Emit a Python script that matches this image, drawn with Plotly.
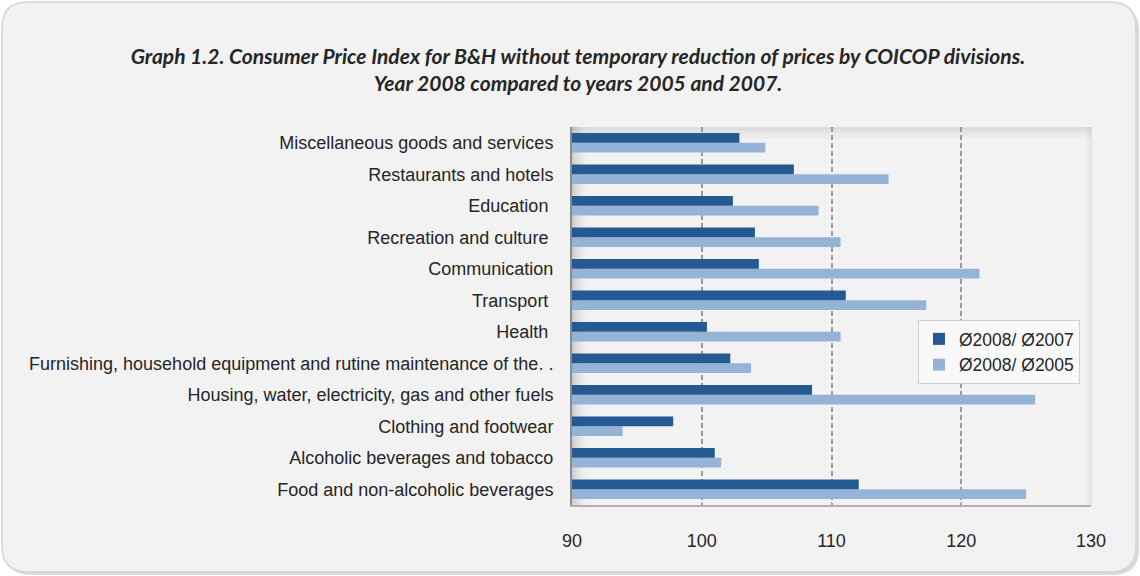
import plotly.graph_objects as go

# DATA (bottom to top, as plotted)
categories = [
    "Food and non-alcoholic beverages",
    "Alcoholic beverages and tobacco",
    "Clothing and footwear",
    "Housing, water, electricity, gas and other fuels",
    "Furnishing, household equipment and rutine maintenance of the. .",
    "Health ",
    "Transport ",
    "Communication",
    "Recreation and culture ",
    "Education ",
    "Restaurants and hotels",
    "Miscellaneous goods and services",
]
vs_2007 = [112.1, 101.0, 97.8, 108.5, 102.2, 100.4, 111.1, 104.4, 104.1, 102.4, 107.1, 102.9]
vs_2005 = [125.0, 101.5, 93.9, 125.7, 103.8, 110.7, 117.3, 121.4, 110.7, 109.0, 114.4, 104.9]
x_ticks = [90, 100, 110, 120, 130]

COLORS = {
    "dark": "#245a91",
    "light": "#95b3d7",
    "frame": "#f2f2f2",
    "border": "#d4d4d4",
    "grid": "#9a9a9a",
    "text": "#262626",
}
LABEL_FONT = "Liberation Sans, Arial, sans-serif"

# plot area in pixels
L, R, T, B = 572, 1091, 127, 505
W, H = 1140, 576


def px(x):
    return (x - L) / (R - L)


def py(y):
    return (B - y) / (B - T)


def rounded_rect(x0, y0, x1, y1, r):
    return (
        f"M {px(x0 + r)} {py(y0)} L {px(x1 - r)} {py(y0)} "
        f"Q {px(x1)} {py(y0)} {px(x1)} {py(y0 + r)} "
        f"L {px(x1)} {py(y1 - r)} Q {px(x1)} {py(y1)} {px(x1 - r)} {py(y1)} "
        f"L {px(x0 + r)} {py(y1)} Q {px(x0)} {py(y1)} {px(x0)} {py(y1 - r)} "
        f"L {px(x0)} {py(y0 + r)} Q {px(x0)} {py(y0)} {px(x0 + r)} {py(y0)} Z"
    )


fig = go.Figure()

fig.add_trace(go.Bar(
    y=categories, x=vs_2005, orientation="h",
    name="\u00d82008/ \u00d82005",
    marker=dict(color=COLORS["light"], line=dict(width=0)),
    legendrank=2,
))
fig.add_trace(go.Bar(
    y=categories, x=vs_2007, orientation="h",
    name="\u00d82008/ \u00d82007",
    marker=dict(color=COLORS["dark"], line=dict(width=0)),
    legendrank=1,
))

shapes = [
    # soft outer shadow + rounded frame
    dict(type="path", xref="paper", yref="paper", layer="below",
         path=rounded_rect(5, 5, 1139, 575, 26),
         fillcolor="#d9d9d9", line=dict(width=0)),
    dict(type="path", xref="paper", yref="paper", layer="below",
         path=rounded_rect(2, 2, 1136, 572, 26),
         fillcolor=COLORS["frame"], line=dict(color=COLORS["border"], width=1.5)),
]
# soft inner shadow along the left edge of the plot area
for i, a in enumerate([0.14, 0.10, 0.07, 0.045, 0.025, 0.012]):
    shapes.append(dict(
        type="rect", xref="paper", yref="paper", layer="below",
        x0=px(L + i * 2.5), x1=px(L + i * 2.5 + 2.5), y0=0, y1=1,
        fillcolor=f"rgba(0,0,0,{a})", line=dict(width=0),
    ))
# soft shadow along the top edge
for i, a in enumerate([0.09, 0.06, 0.035, 0.018]):
    shapes.append(dict(
        type="rect", xref="paper", yref="paper", layer="below",
        x0=0, x1=1, y0=py(T + i * 3 + 3), y1=py(T + i * 3),
        fillcolor=f"rgba(0,0,0,{a})", line=dict(width=0),
    ))
# faint shadow along the right edge
for i, a in enumerate([0.06, 0.035, 0.015]):
    shapes.append(dict(
        type="rect", xref="paper", yref="paper", layer="below",
        x0=px(R + 1 - i * 2 - 2), x1=px(R + 1 - i * 2), y0=0, y1=1,
        fillcolor=f"rgba(0,0,0,{a})", line=dict(width=0),
    ))

fig.update_layout(
    width=W, height=H,
    paper_bgcolor="white",
    plot_bgcolor=COLORS["frame"],
    margin=dict(l=L, r=W - R, t=T, b=H - B, pad=0),
    barmode="group",
    bargap=0.38,
    bargroupgap=0.0,
    shapes=shapes,
    title=dict(
        text="Graph 1.2. Consumer Price Index for B&H without temporary reduction of prices by COICOP divisions."
             "<br>Year 2008 compared to years 2005 and 2007.",
        x=578 / W, xanchor="center",
        y=1 - 64 / H, yanchor="top",
        font=dict(family="Lato, Open Sans, sans-serif", size=21, color=COLORS["text"],
                  weight="bold", style="italic"),
    ),
    legend=dict(
        x=px(918), y=py(320), xanchor="left", yanchor="top",
        bgcolor="#f9f9f9", bordercolor="#d0d0d0", borderwidth=1,
        font=dict(family=LABEL_FONT, size=17.5, color=COLORS["text"]),
        itemwidth=30, tracegroupgap=0,
    ),
    font=dict(family=LABEL_FONT, color=COLORS["text"]),
)

fig.update_xaxes(
    range=[90, 130],
    tickvals=x_ticks,
    tickfont=dict(size=18, family=LABEL_FONT, color=COLORS["text"]),
    ticklabelstandoff=18,
    showgrid=True, gridcolor=COLORS["grid"], griddash="5px,3px", gridwidth=1.5,
    showline=True, linecolor="#b0b0b0", linewidth=2,
    ticks="inside", ticklen=3, tickcolor="#a6a6a6",
    zeroline=False,
)
fig.update_yaxes(
    categoryorder="array", categoryarray=categories,
    tickfont=dict(size=18, family=LABEL_FONT, color=COLORS["text"]),
    ticklabelstandoff=13,
    showline=True, linecolor="#8c8c8c", linewidth=2,
    showgrid=False, ticks="",
)

fig.write_html(
    "out.html",
    config={"displayModeBar": False},
    post_script="document.body.style.margin='0';document.body.style.overflow='hidden';",
)
